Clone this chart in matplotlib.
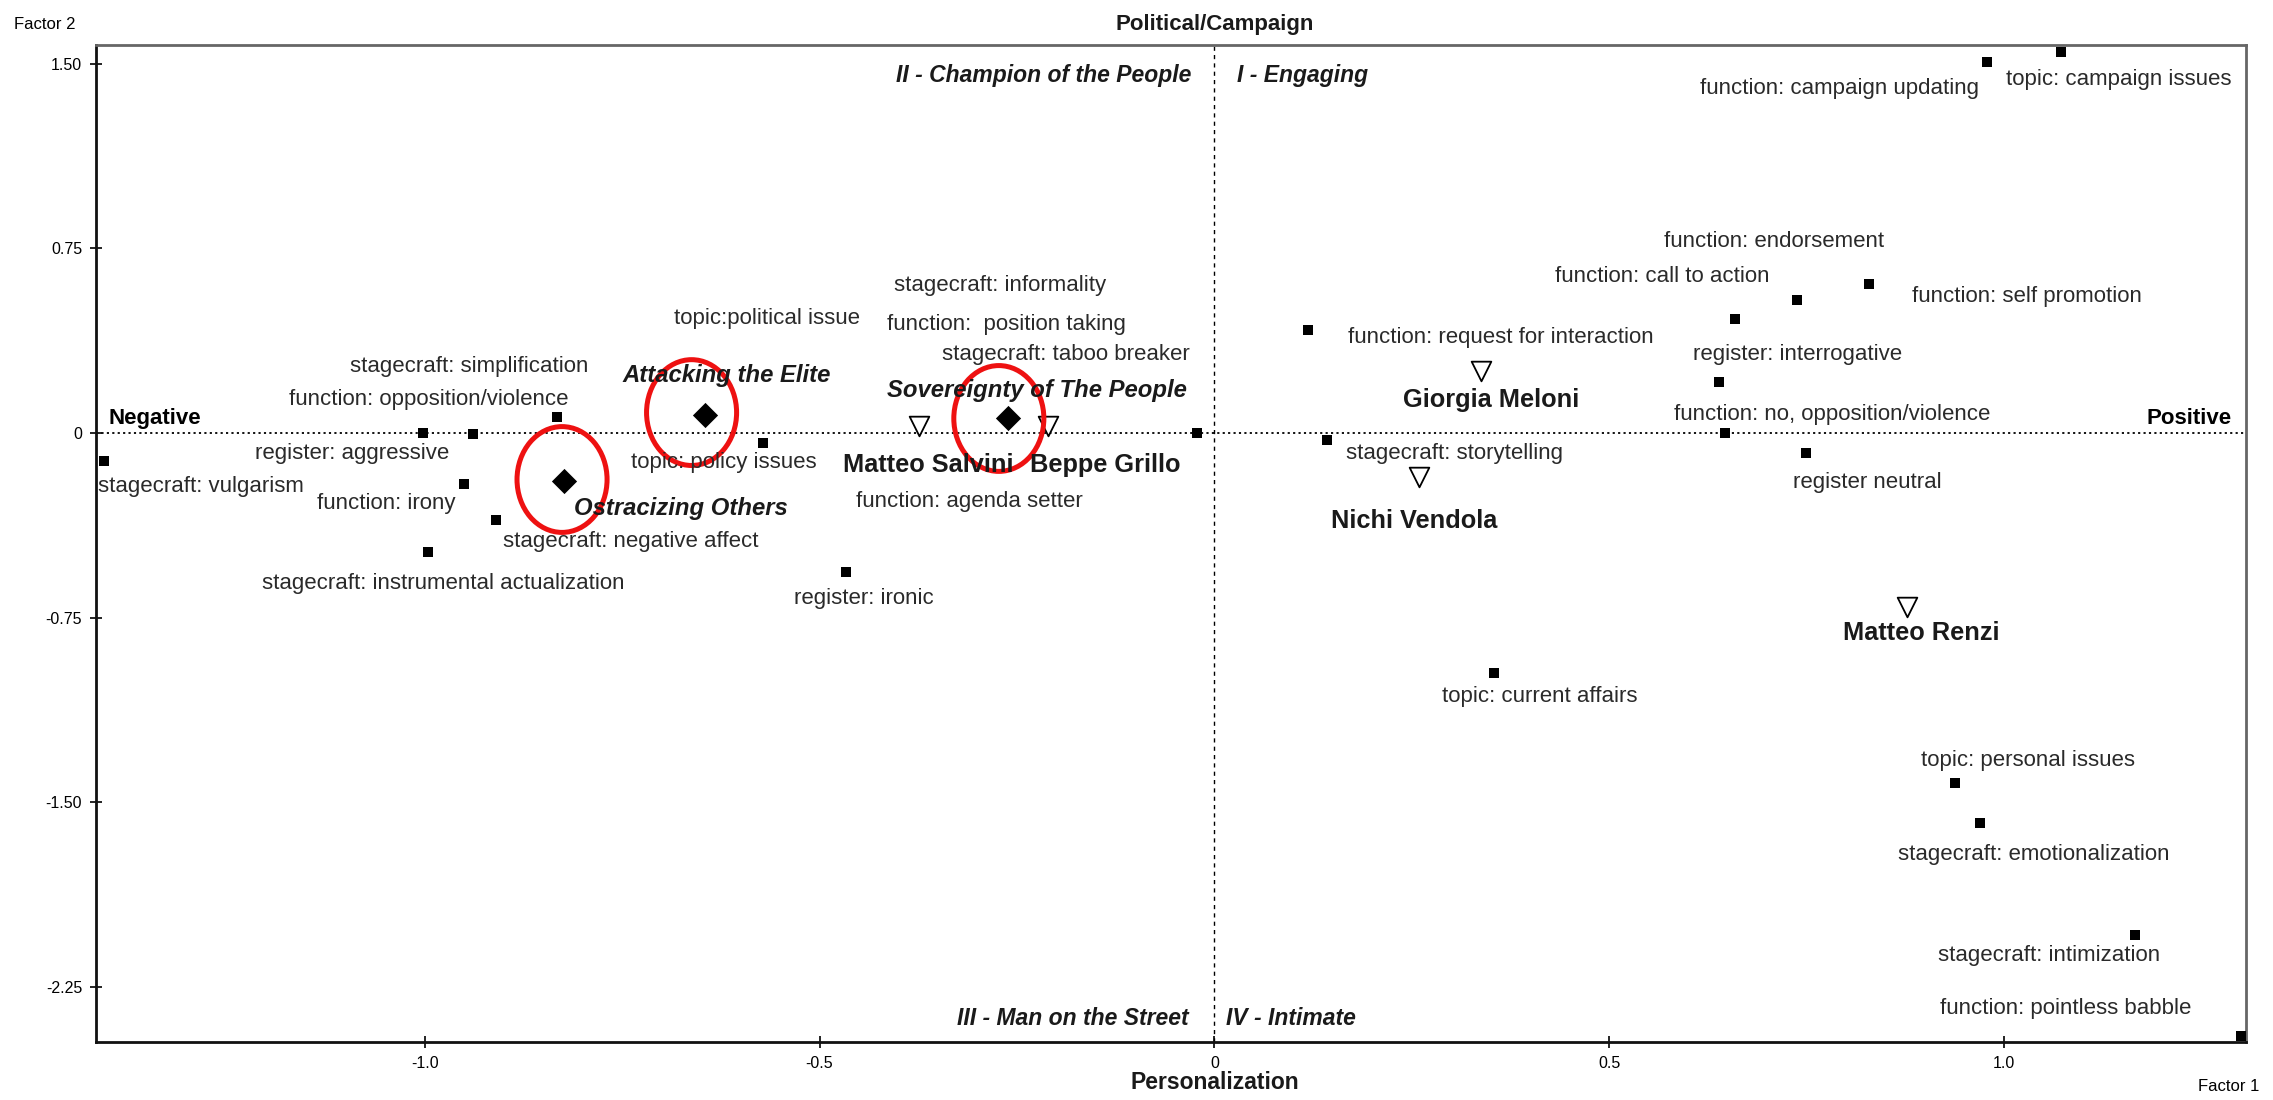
import matplotlib
matplotlib.use("Agg")
import matplotlib.pyplot as plt
from matplotlib.patches import Ellipse
from matplotlib import font_manager

# ---------------- data ----------------
# category points (filled squares)
cat_x = [-1.406, -1.002, -0.939, -0.833, -0.950, -0.910, -0.996, -0.572, -0.466, -0.022,
         0.119, 0.143, 0.354, 0.646, 0.639, 0.659, 0.738, 0.829, 0.749, 0.978, 1.072,
         0.938, 0.969, 1.165, 1.299]
cat_y = [-0.112, 0.000, -0.003, 0.065, -0.206, -0.353, -0.483, -0.041, -0.565, 0.000,
         0.418, -0.029, -0.977, 0.000, 0.206, 0.465, 0.541, 0.606, -0.082, 1.507, 1.548,
         -1.424, -1.583, -2.042, -2.451]

# category labels and anchor positions (data units), alignment
cat_labels = ["stagecraft: vulgarism", "register: aggressive", "function: opposition/violence",
              "stagecraft: simplification", "function: irony", "stagecraft: negative affect",
              "stagecraft: instrumental actualization", "topic:political issue",
              "topic: policy issues", "register: ironic", "stagecraft: informality",
              "function:  position taking", "stagecraft: taboo breaker",
              "function: agenda setter", "function: request for interaction",
              "stagecraft: storytelling", "topic: current affairs", "function: endorsement",
              "function: call to action", "function: self promotion",
              "register: interrogative", "function: no, opposition/violence",
              "register neutral", "function: campaign updating", "topic: campaign issues",
              "topic: personal issues", "stagecraft: emotionalization",
              "stagecraft: intimization", "function: pointless babble"]
lab_x = [-1.413, -0.969, -0.818, -0.793, -0.961, -0.901, -1.206, -0.684, -0.739, -0.532,
         -0.406, -0.415, -0.031, -0.167, 0.169, 0.167, 0.288, 0.569, 0.431, 0.883,
         0.606, 0.582, 0.732, 0.615, 1.002, 0.895, 0.866, 0.916, 0.919]
lab_y = [-0.218, -0.082, 0.135, 0.271, -0.288, -0.441, -0.612, 0.465, -0.121, -0.671,
         0.600, 0.441, 0.318, -0.277, 0.388, -0.082, -1.071, 0.777, 0.636, 0.553,
         0.318, 0.077, -0.200, 1.401, 1.436, -1.330, -1.713, -2.125, -2.337]
lab_ha = ["left", "right", "right", "right", "right", "left", "left", "left", "left", "left",
          "left", "left", "right", "right", "left", "left", "left", "left", "left", "left",
          "left", "left", "left", "left", "left", "left", "left", "left", "left"]

# candidates (open down triangles)
cand_names = ["Matteo Salvini", "Beppe Grillo", "Giorgia Meloni", "Nichi Vendola", "Matteo Renzi"]
cand_x = [-0.374, -0.211, 0.338, 0.259, 0.877]
cand_y = [0.029, 0.029, 0.253, -0.177, -0.706]
cand_lx = [-0.470, -0.233, 0.239, 0.147, 0.796]
cand_ly = [-0.129, -0.129, 0.135, -0.359, -0.812]

# styles (filled diamonds)
style_names = ["Attacking the Elite", "Ostracizing Others", "Sovereignty of The People"]
style_x = [-0.645, -0.824, -0.262]
style_y = [0.075, -0.197, 0.062]
style_lx = [-0.750, -0.811, -0.415]
style_ly = [0.235, -0.306, 0.171]
ring_x = [-0.662, -0.826, -0.273]
ring_y = [0.083, -0.189, 0.059]

quad_labels = ["II - Champion of the People", "I - Engaging", "III - Man on the Street", "IV - Intimate"]

xticks = [-1.0, -0.5, 0.0, 0.5, 1.0]
xtick_labels = ["-1.0", "-0.5", "0", "0.5", "1.0"]
yticks = [1.50, 0.75, 0.0, -0.75, -1.50, -2.25]
ytick_labels = ["1.50", "0.75", "0", "-0.75", "-1.50", "-2.25"]

# ---------------- fonts ----------------
names = {f.name for f in font_manager.fontManager.ttflist}
base = "Liberation Sans" if "Liberation Sans" in names else "DejaVu Sans"
narrow = "Liberation Sans Narrow" if "Liberation Sans Narrow" in names else base
plt.rcParams["font.family"] = [base, "DejaVu Sans"]

# ---------------- figure ----------------
fig = plt.figure(figsize=(22.73, 11.0), dpi=100)
ax = fig.add_axes([0.04224, 0.05273, 0.9459, 0.9064])
ax.set_xlim(-1.416, 1.306)
ax.set_ylim(-2.475, 1.577)

# reference lines
ax.axhline(0, color="black", lw=1.3, linestyle=(0, (1.2, 1.8)), zorder=1)
ax.axvline(0, color="black", lw=1.0, linestyle=(0, (3, 3)), zorder=1)

# points
ax.scatter(cat_x, cat_y, marker="s", s=50, c="black", zorder=3, linewidths=0)
ax.scatter(cand_x, cand_y, marker="v", s=200, facecolors="white", edgecolors="black",
           linewidths=1.3, zorder=3)
ax.scatter(style_x, style_y, marker="D", s=165, c="black", zorder=3, linewidths=0)

for cx, cy in zip(ring_x, ring_y):
    ax.add_patch(Ellipse((cx, cy), width=0.114, height=0.43, fill=False,
                         edgecolor="#ee1111", lw=3.6, zorder=4))

# labels
for t, x, y, ha in zip(cat_labels, lab_x, lab_y, lab_ha):
    ax.text(x, y, t, ha=ha, va="center", fontsize=16, color="#2a2a2a", zorder=5)
for t, x, y in zip(cand_names, cand_lx, cand_ly):
    ax.text(x, y, t, ha="left", va="center", fontsize=18.3, fontweight="bold",
            color="#1a1a1a", zorder=5)
for t, x, y in zip(style_names, style_lx, style_ly):
    ax.text(x, y, t, ha="left", va="center", fontsize=17.2, fontweight="bold",
            fontstyle="italic", color="#1a1a1a", zorder=5)

qkw = dict(fontsize=16.5, fontweight="bold", fontstyle="italic", color="#1a1a1a", va="center")
ax.text(-0.029, 1.454, quad_labels[0], ha="right", **qkw)
ax.text(0.028, 1.454, quad_labels[1], ha="left", **qkw)
ax.text(-0.033, -2.378, quad_labels[2], ha="right", **qkw)
ax.text(0.015, -2.378, quad_labels[3], ha="left", **qkw)

ax.text(-1.400, 0.059, "Negative", ha="left", va="center", fontsize=16, fontweight="bold")
ax.text(1.288, 0.059, "Positive", ha="right", va="center", fontsize=16, fontweight="bold")

fig.text(0.5345, 0.9776, "Political/Campaign", ha="center", va="center", fontsize=16,
         fontweight="bold", color="#1a1a1a")
fig.text(0.5345, 0.0155, "Personalization", ha="center", va="center", fontsize=16.5,
         fontweight="bold", color="#1a1a1a")
fig.text(0.0062, 0.978, "Factor 2", ha="left", va="center", fontsize=12, family=narrow)
fig.text(0.967, 0.012, "Factor 1", ha="left", va="center", fontsize=12, family=narrow)

# ticks and spines
ax.set_xticks(xticks)
ax.set_xticklabels(xtick_labels, family=narrow, fontsize=11.5)
ax.set_yticks(yticks)
ax.set_yticklabels(ytick_labels, family=narrow, fontsize=11.5)
ax.tick_params(direction="inout", length=8, width=1.2, pad=6, color="black")
for side in ["left", "bottom"]:
    ax.spines[side].set_linewidth(2.0)
    ax.spines[side].set_color("#111111")
for side in ["top", "right"]:
    ax.spines[side].set_linewidth(2.0)
    ax.spines[side].set_color("#666666")

fig.savefig("out.png", dpi=100)
